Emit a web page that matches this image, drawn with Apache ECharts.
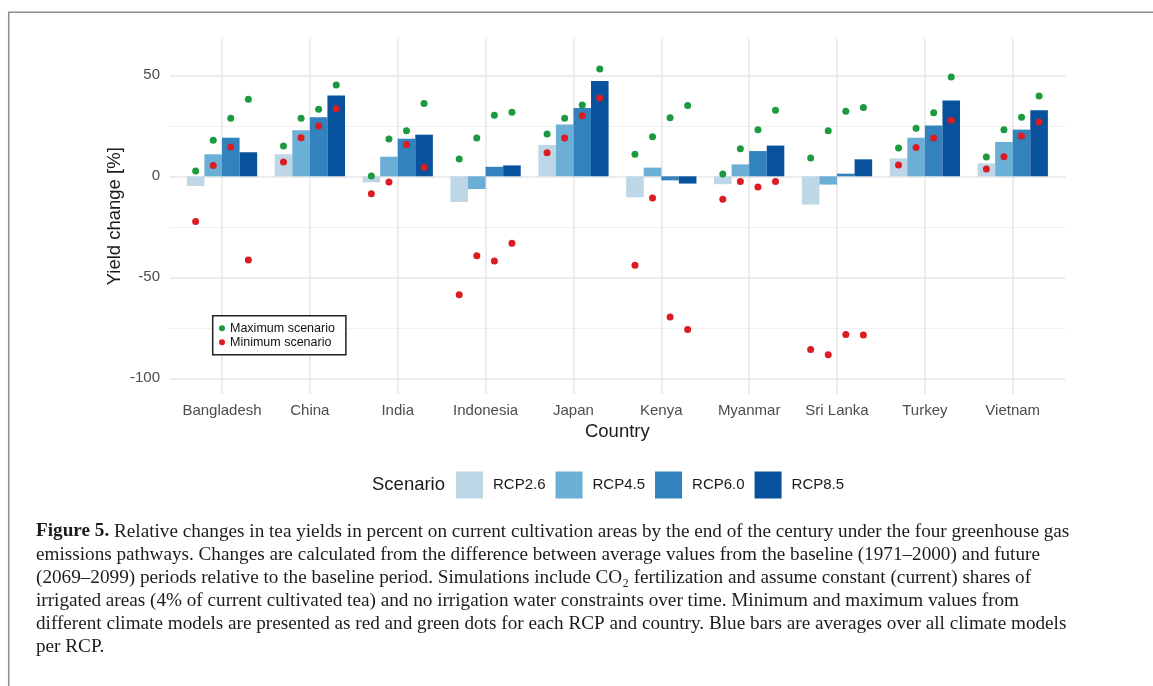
<!DOCTYPE html>
<html>
<head>
<meta charset="utf-8">
<script src="https://cdn.jsdelivr.net/npm/echarts@6/dist/echarts.min.js"></script>
<style>
html,body{margin:0;padding:0;background:#fff;}
#c{width:1153px;height:686px;}
</style>
</head>
<body>
<div id="c"></div>
<script>
// ---------------- data ----------------
const countries = ['Bangladesh','China','India','Indonesia','Japan','Kenya','Myanmar','Sri Lanka','Turkey','Vietnam'];
const scenarios = ['RCP2.6','RCP4.5','RCP6.0','RCP8.5'];
const yTicks = [-100, -50, 0, 50];

const rcp26 = [-4.8, 10.9, -3.0, -12.7, 15.5, -10.4, -3.9, -14.0, 8.9, 6.4];
const rcp45 = [10.9, 22.8, 9.7, -6.3, 25.7, 4.3, 5.9, -4.1, 19.1, 17.0];
const rcp60 = [19.1, 29.2, 18.6, 4.7, 33.8, -2.0, 12.5, 1.3, 25.1, 23.1];
const rcp85 = [11.9, 40.0, 20.6, 5.4, 47.2, -3.6, 15.2, 8.4, 37.5, 32.7];

const max26 = [2.6, 15.0, 0.2, 8.6, 20.9, 10.9, 1.2, 9.1, 14.0, 9.6];
const max45 = [17.8, 28.7, 18.5, 19.0, 28.7, 19.6, 13.7, 22.6, 23.8, 23.1];
const max60 = [28.7, 33.2, 22.5, 30.2, 35.3, 29.0, 23.1, 32.2, 31.4, 29.2];
const max85 = [38.1, 45.2, 36.0, 31.7, 53.1, 35.1, 32.7, 34.0, 49.2, 39.8];

const min26 = [-22.4, 7.1, -8.6, -58.6, 11.6, -44.0, -11.4, -85.8, 5.6, 3.6];
const min45 = [5.4, 19.1, -2.8, -39.3, 19.0, -10.7, -2.6, -88.4, 14.2, 9.7];
const min60 = [14.5, 24.9, 15.7, -41.9, 30.0, -69.6, -5.3, -78.3, 19.0, 20.0];
const min85 = [-41.4, 33.5, 4.5, -33.2, 38.8, -75.8, -2.6, -78.6, 27.7, 26.9];

const captionLines = [
  'Relative changes in tea yields in percent on current cultivation areas by the end of the century under the four greenhouse gas',
  'emissions pathways. Changes are calculated from the difference between average values from the baseline (1971\u20132000) and future',
  '(2069\u20132099) periods relative to the baseline period. Simulations include CO\u2082 fertilization and assume constant (current) shares of',
  'irrigated areas (4% of current cultivated tea) and no irrigation water constraints over time. Minimum and maximum values from',
  'different climate models are presented as red and green dots for each RCP and country. Blue bars are averages over all climate models',
  'per RCP.'
];

// ---------------- style ----------------
const barColors = ['#bdd7e7', '#6baed6', '#3182bd', '#08519c'];
const maxColor = '#1c9a3f';
const minColor = '#dc1c22';
const majorGrid = '#e6e6e6';
const minorGrid = '#f1f1f1';
const sans = 'Liberation Sans, Arial, sans-serif';
const serif = 'Liberation Serif, Times New Roman, serif';

const barSets = [rcp26, rcp45, rcp60, rcp85];
const maxSets = [max26, max45, max60, max85];
const minSets = [min26, min45, min60, min85];
const dodge = 0.2;
function dotData(sets) {
  const out = [];
  sets.forEach((arr, k) => arr.forEach((v, i) => out.push([i + (k - 1.5) * dodge, v])));
  return out;
}

const chart = echarts.init(document.getElementById('c'), null, {renderer: 'canvas'});

const series = [];
scenarios.forEach((name, k) => {
  series.push({
    name: name, type: 'bar', xAxisIndex: 2, yAxisIndex: 3,
    data: barSets[k], barWidth: '20%', barGap: '0%',
    itemStyle: {color: barColors[k]}, z: 2, silent: true
  });
});
series.push({
  name: 'Maximum scenario', type: 'scatter', xAxisIndex: 3, yAxisIndex: 3,
  data: dotData(maxSets), symbol: 'circle', symbolSize: 7, clip: false,
  itemStyle: {color: maxColor, opacity: 1}, z: 5, silent: true
});
series.push({
  name: 'Minimum scenario', type: 'scatter', xAxisIndex: 3, yAxisIndex: 3,
  data: dotData(minSets), symbol: 'circle', symbolSize: 7, clip: false,
  itemStyle: {color: minColor, opacity: 1}, z: 5, silent: true
});

const capSize = 19.2;
const captionGraphics = captionLines.map((t, j) => ({
  type: 'text', left: 36, top: 522 + j * 23,
  style: {
    text: j === 0 ? '{b|Figure 5.} ' + t : t,
    font: capSize + 'px ' + serif, fill: '#1e1b1c',
    rich: { b: {fontWeight: 'bold', fontSize: capSize, fontFamily: serif, fill: '#1e1b1c'} }
  }
}));

const option = {
  animation: false,
  backgroundColor: '#fff',
  grid: [
    {left: 170, width: 895.4, top: 24.8, height: 353.5, outerBoundsMode: 'none', containLabel: false},
    {left: 222, width: 790.7, top: 38.5, height: 355.5, outerBoundsMode: 'none', containLabel: false},
    {left: 178.07, width: 878.6, top: 24.8, height: 353.5, outerBoundsMode: 'none', containLabel: false}
  ],
  xAxis: [
    {gridIndex: 0, type: 'value', min: 0, max: 1, show: false},
    {gridIndex: 1, type: 'value', min: 0, max: countries.length - 1, interval: 1,
      axisLine: {show: false}, axisTick: {show: false},
      splitLine: {show: true, lineStyle: {color: majorGrid, width: 1.5}},
      axisLabel: {show: true, showMinLabel: true, showMaxLabel: true, margin: 9,
        fontFamily: sans, fontSize: 15, color: '#4d4d4d',
        formatter: v => countries[Math.round(v)] || ''},
      name: 'Country', nameLocation: 'middle', nameGap: 28,
      nameTextStyle: {fontFamily: sans, fontSize: 18.5, color: '#1a1a1a'}
    },
    {gridIndex: 2, type: 'category', data: countries, show: false, boundaryGap: true},
    {gridIndex: 2, type: 'value', min: -0.5, max: countries.length - 0.5, show: false}
  ],
  yAxis: [
    {gridIndex: 0, type: 'value', position: 'left', min: -100, max: 75, interval: 25,
      axisLine: {show: false}, axisTick: {show: false},
      splitLine: {show: true, lineStyle: {color: [majorGrid, 'transparent'], width: 1.5}},
      axisLabel: {margin: 10, fontFamily: sans, fontSize: 15, color: '#4d4d4d',
        formatter: v => (yTicks.indexOf(v) >= 0 ? String(v) : '')}
    },
    {gridIndex: 0, type: 'value', position: 'left', min: -100, max: 75, interval: 25,
      axisLine: {show: false}, axisTick: {show: false}, axisLabel: {show: false},
      splitLine: {show: true, lineStyle: {color: ['transparent', minorGrid, 'transparent', minorGrid, 'transparent', minorGrid, 'transparent', 'transparent'], width: 1}}
    },
    {gridIndex: 1, type: 'value', min: 0, max: 1, show: false, splitLine: {show: false}},
    {gridIndex: 2, type: 'value', min: -100, max: 75, show: false, splitLine: {show: false}}
  ],
  legend: [
    {
      data: scenarios, orient: 'horizontal', left: 456, top: 471.5,
      icon: 'rect', itemWidth: 27, itemHeight: 27, itemGap: 10,
      textStyle: {fontFamily: sans, fontSize: 15, color: '#1a1a1a', padding: [0, 0, 0, 5]},
      selectedMode: false, padding: 0
    },
    {
      data: ['Maximum scenario', 'Minimum scenario'], orient: 'vertical', left: 212.7, top: 315.7,
      icon: 'circle', itemWidth: 6, itemHeight: 6, itemGap: 0,
      textStyle: {fontFamily: sans, fontSize: 12.5, color: '#111', lineHeight: 14},
      borderColor: '#222', borderWidth: 1.5, borderRadius: 0,
      padding: [5.6, 11, 5.4, 6.3], backgroundColor: '#fff', selectedMode: false
    }
  ],
  graphic: [
    {type: 'polyline', shape: {points: [[8.7, 686], [8.7, 12.3], [1153, 12.3]]},
      style: {stroke: '#8c8c8c', lineWidth: 1.5, fill: null}, silent: true},
    {type: 'text', x: 114.5, y: 216.3, rotation: Math.PI / 2,
      style: {text: 'Yield change [%]', font: '18.5px ' + sans, fill: '#1a1a1a', align: 'center', verticalAlign: 'middle'}},
    {type: 'text', left: 372, top: 475,
      style: {text: 'Scenario', font: '18.5px ' + sans, fill: '#1a1a1a'}}
  ].concat(captionGraphics),
  series: series
};
chart.setOption(option);
</script>
</body>
</html>
